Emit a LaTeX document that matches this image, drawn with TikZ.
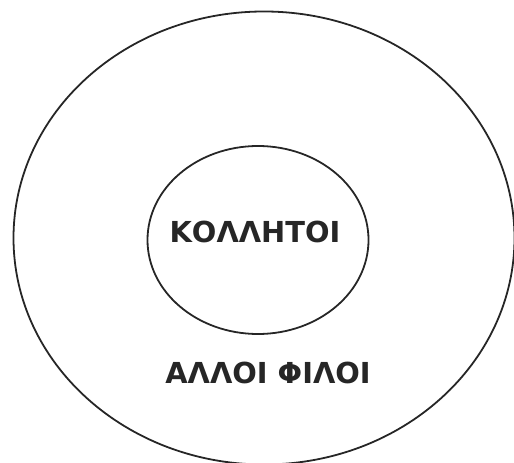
\documentclass[tikz,border=0pt]{standalone}
\usepackage{fontspec}
\usepackage{tikz}
\usetikzlibrary{shapes.geometric,positioning}
\newfontfamily\grkfont{DejaVu Sans}

\begin{document}
\begin{tikzpicture}[x=1bp, y=-1bp,
  ring/.style={draw=black!85, ellipse, line width=1.8pt, inner sep=0pt},
  lbl/.style={font=\grkfont\bfseries\fontsize{29}{34}\selectfont, text=black!85, anchor=base, inner sep=0pt}]
\useasboundingbox (0,0) rectangle (514,463);
% circles of friends
\node[ring, minimum width=501bp, minimum height=453bp] (allfriends) at (264,238) {};
\node[ring, minimum width=221bp, minimum height=188bp] (close) at (258,240) {};
% labels
\node[lbl] (closelbl) at (255,243) {ΚΟΛΛΗΤΟΙ};
\node[lbl] (otherlbl) at (268,383) {ΑΛΛΟΙ ΦΙΛΟΙ};
\end{tikzpicture}
\end{document}
